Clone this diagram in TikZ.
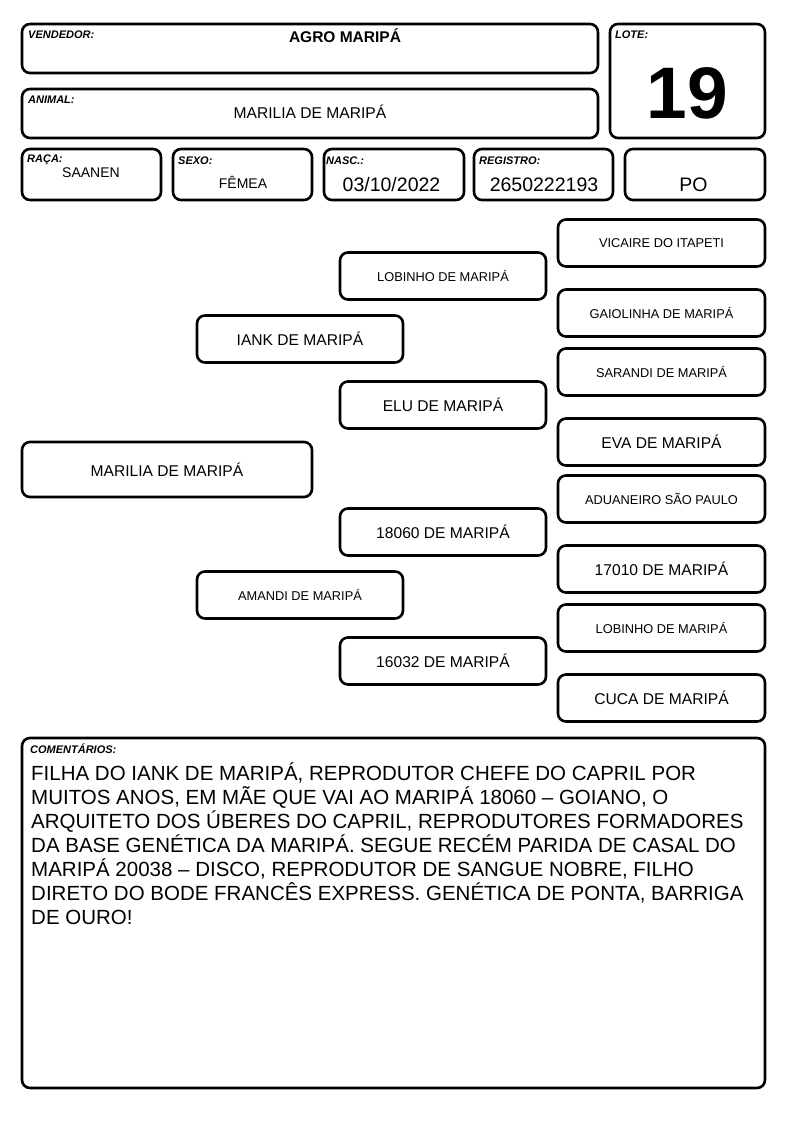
\documentclass[tikz,border=0pt]{standalone}
\usepackage{fontspec}
\setmainfont{Liberation Sans}
\usetikzlibrary{positioning}

\begin{document}
\begin{tikzpicture}[x=1pt,y=-1pt,
    box/.style={draw,line width=2.6pt,rounded corners=8pt,inner sep=0pt},
    tag/.style={font=\fontsize{11}{13}\selectfont\bfseries\itshape,anchor=base west,inner sep=0pt},
    val/.style={anchor=base,inner sep=0pt},
    big/.style={font=\fontsize{15.6}{18}\selectfont},
    small/.style={font=\fontsize{12.8}{15}\selectfont},
    mid/.style={font=\fontsize{19.5}{22}\selectfont}]
\useasboundingbox (0,0) rectangle (794,1123);

% header
\node[box,minimum width=576pt,minimum height=49pt] (vend) at (310,48.5) {};
\node[box,minimum width=576pt,minimum height=49pt] (anim) at (310,113.5) {};
\node[box,minimum width=155pt,minimum height=114pt] (lote) at (687.5,81) {};
\foreach \x/\w/\nm [count=\n] in {91.5/139/raca,242.5/139/sexo,394/140/nasc,543.5/139/reg,695/140/po}
   \node[box,minimum width=\w pt,minimum height=51pt] (\nm) at (\x,174.5) {};

\node[tag] (vendT) at (28,39) {VENDEDOR:};
\node[tag] (animT) at (28,104) {ANIMAL:};
\node[tag] (loteT) at (615,38.5) {LOTE:};
\node[tag] (racaT) at (27,163) {RAÇA:};
\node[tag] (sexoT) at (178,165) {SEXO:};
\node[tag] (nascT) at (326,165) {NASC.:};
\node[tag] (regT) at (479,165) {REGISTRO:};

\node[val,font=\fontsize{15.5}{18}\selectfont\bfseries] (vendV) at (345,43) {AGRO MARIPÁ};
\node[val,big] (animV) at (310,119) {MARILIA DE MARIPÁ};
\node[val,font=\fontsize{73}{78}\selectfont\bfseries] (loteV) at (687.5,118.5) {19};
\node[val,font=\fontsize{14}{16}\selectfont] (racaV) at (91,178) {SAANEN};
\node[val,font=\fontsize{14}{16}\selectfont] (sexoV) at (243,189) {FÊMEA};
\node[val,mid] (nascV) at (391.5,192) {03/10/2022};
\node[val,mid] (regV) at (544,192) {2650222193};
\node[val,mid] (poV) at (693.5,192) {PO};

% pedigree
\foreach \x/\y/\w/\h/\f/\t [count=\n] in
   {167/469.5/290/55/big/MARILIA DE MARIPÁ,
    300/339/206/47/big/IANK DE MARIPÁ,
    300/595/206/47/small/AMANDI DE MARIPÁ,
    443/276/206/47/small/LOBINHO DE MARIPÁ,
    443/405/206/47/big/ELU DE MARIPÁ,
    443/532/206/47/big/18060 DE MARIPÁ,
    443/661/206/47/big/16032 DE MARIPÁ,
    661.5/243/207/47/small/VICAIRE DO ITAPETI,
    661.5/313/207/47/small/GAIOLINHA DE MARIPÁ,
    661.5/372/207/47/small/SARANDI DE MARIPÁ,
    661.5/442/207/47/big/EVA DE MARIPÁ,
    661.5/499/207/47/small/ADUANEIRO SÃO PAULO,
    661.5/569/207/47/big/17010 DE MARIPÁ,
    661.5/628/207/47/small/LOBINHO DE MARIPÁ,
    661.5/698/207/47/big/CUCA DE MARIPÁ}
   \node[box,\f,minimum width=\w pt,minimum height=\h pt] (P\n) at (\x,\y) {\t};

% comments
\node[box,minimum width=743pt,minimum height=350pt] (com) at (393.5,913) {};
\node[tag] (comT) at (30,753) {COMENTÁRIOS:};
\foreach \l [count=\n] in
   {FILHA DO IANK DE MARIPÁ{,} REPRODUTOR CHEFE DO CAPRIL POR,
    MUITOS ANOS{,} EM MÃE QUE VAI AO MARIPÁ 18060 – GOIANO{,} O,
    ARQUITETO DOS ÚBERES DO CAPRIL{,} REPRODUTORES FORMADORES,
    DA BASE GENÉTICA DA MARIPÁ. SEGUE RECÉM PARIDA DE CASAL DO,
    MARIPÁ 20038 – DISCO{,} REPRODUTOR DE SANGUE NOBRE{,} FILHO,
    DIRETO DO BODE FRANCÊS EXPRESS. GENÉTICA DE PONTA{,} BARRIGA,
    DE OURO!}
   \node[tag,font=\fontsize{20.5}{24}\selectfont] (L\n) at (31,756.5+24*\n) {\l};
\end{tikzpicture}
\end{document}
